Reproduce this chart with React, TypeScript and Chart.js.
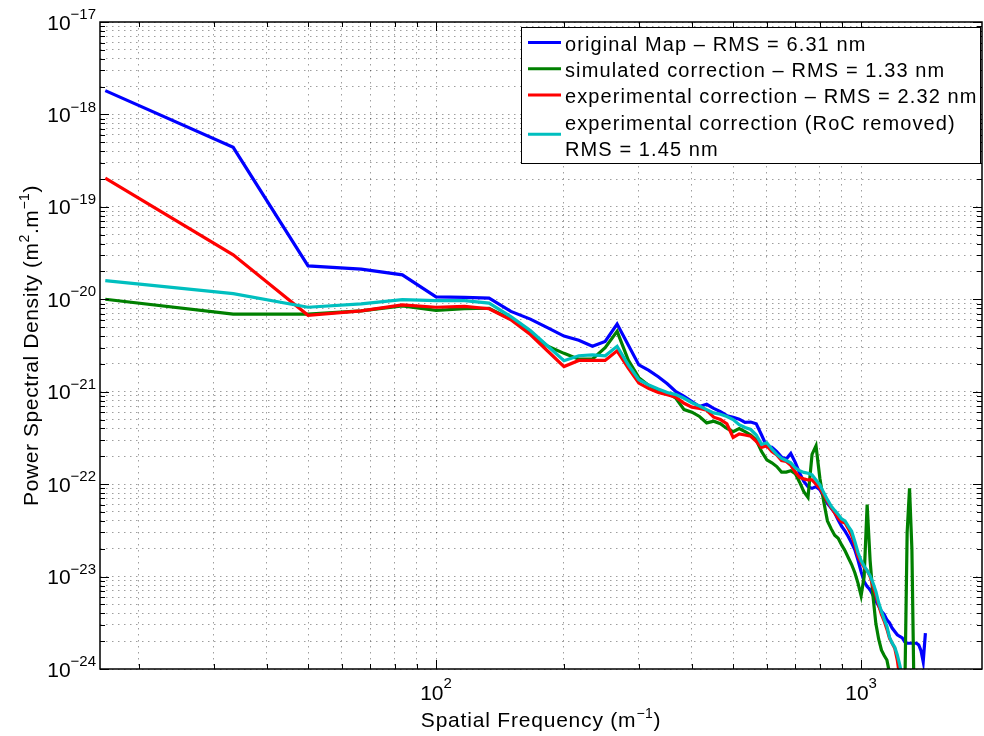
import React, { useEffect, useRef } from 'react';
import { Chart, registerables } from 'chart.js';

Chart.register(...registerables);

const FONT = '"Liberation Sans", Arial, Helvetica, sans-serif';

// Spatial frequency bins (m^-1)
const frequency = [
  16.67, 33.33, 50, 66.67, 83.33, 100, 116.7, 133.3, 150, 166.7,
  183.3, 200, 216.7, 233.3, 250, 266.7, 283.3, 300, 316.7, 333.3,
  350, 366.7, 383.3, 400, 416.7, 433.3, 450, 466.7, 483.3, 500,
  516.7, 533.3, 550, 566.7, 583.3, 600, 616.7, 633.3, 650, 666.7,
  683.3, 700, 716.7, 733.3, 750, 766.7, 783.3, 800, 816.7, 833.3,
  850, 866.7, 883.3, 900, 916.7, 933.3, 950, 966.7, 983.3, 1000,
  1016.7, 1033.3, 1050, 1066.7, 1083.3, 1100, 1116.7, 1133.3, 1150, 1166.7,
  1183.3, 1200, 1216.7, 1233.3, 1250, 1266.7, 1283.3, 1300, 1316.7, 1333.3,
  1350, 1366.7, 1383.3, 1400, 1416.7,
];

// PSD values (m^2.m^-1)
const psdOriginal = [
  1.81e-18, 4.4e-19, 2.3e-20, 2.12e-20, 1.84e-20, 1.06e-20, 1.05e-20, 1.03e-20, 7.4e-21, 6.1e-21,
  4.9e-21, 4.0e-21, 3.6e-21, 3.1e-21, 3.5e-21, 5.4e-21, 3.2e-21, 1.95e-21, 1.7e-21, 1.45e-21,
  1.22e-21, 1.0e-21, 8.9e-22, 7.8e-22, 6.9e-22, 7.3e-22, 6.6e-22, 6.1e-22, 5.5e-22, 5.3e-22,
  5.05e-22, 4.65e-22, 4.7e-22, 4.5e-22, 3.4e-22, 2.55e-22, 2.5e-22, 2.25e-22, 1.96e-22, 1.87e-22,
  2.15e-22, 1.72e-22, 1.32e-22, 1.07e-22, 9.4e-23, 9.0e-23, 9.4e-23, 8.7e-23, 7.3e-23, 6.2e-23,
  5.5e-23, 4.9e-23, 4.1e-23, 3.5e-23, 3.1e-23, 2.7e-23, 2.3e-23, 1.95e-23, 1.51e-23, 1.13e-23,
  8.8e-24, 7.8e-24, 7.2e-24, 6.3e-24, 5.4e-24, 4.8e-24, 4.2e-24, 3.9e-24, 3.4e-24, 3.15e-24,
  2.77e-24, 2.55e-24, 2.35e-24, 2.25e-24, 2.17e-24, 1.97e-24, 1.9e-24, 1.9e-24, 1.9e-24, 1.9e-24,
  1.9e-24, 1.82e-24, 1.58e-24, 1.2e-24, 2.45e-24,
];

const psdSimulated = [
  1.0e-20, 6.9e-21, 6.9e-21, 7.5e-21, 8.5e-21, 7.6e-21, 7.9e-21, 8.0e-21, 6.1e-21, 4.3e-21,
  3.1e-21, 2.6e-21, 2.25e-21, 2.25e-21, 3.0e-21, 4.5e-21, 2.2e-21, 1.42e-21, 1.17e-21, 1.02e-21,
  9.7e-22, 8.5e-22, 6.4e-22, 6.0e-22, 5.4e-22, 4.6e-22, 4.8e-22, 4.5e-22, 4.0e-22, 3.7e-22,
  4.0e-22, 3.7e-22, 3.4e-22, 3.0e-22, 2.25e-22, 1.83e-22, 1.7e-22, 1.55e-22, 1.35e-22, 1.35e-22,
  1.4e-22, 1.3e-22, 1.05e-22, 8.3e-23, 7.2e-23, 2.1e-22, 2.6e-22, 1.15e-22, 6.5e-23, 4.0e-23,
  3.3e-23, 2.8e-23, 2.6e-23, 2.2e-23, 1.9e-23, 1.6e-23, 1.35e-23, 1.1e-23, 8.5e-24, 6.2e-24,
  1.0e-23, 6.0e-23, 1.5e-23, 6.1e-24, 3.1e-24, 2.1e-24, 1.6e-24, 1.4e-24, 1.25e-24, 9e-25,
  5e-25, 4e-25, 4e-25, 4e-25, 4e-25, 5e-25, 3e-23, 9e-23, 2e-23, 4e-25,
];

const psdExperimental = [
  2.05e-19, 3.03e-20, 6.7e-21, 7.5e-21, 8.7e-21, 8.2e-21, 8.4e-21, 7.9e-21, 6.0e-21, 4.15e-21,
  2.74e-21, 1.87e-21, 2.18e-21, 2.18e-21, 2.18e-21, 2.77e-21, 1.8e-21, 1.24e-21, 1.08e-21, 9.8e-22,
  9.3e-22, 8.7e-22, 7.5e-22, 6.8e-22, 6.6e-22, 6.3e-22, 5.3e-22, 5.0e-22, 4.5e-22, 3.2e-22,
  3.5e-22, 3.4e-22, 3.3e-22, 2.9e-22, 2.5e-22, 2.6e-22, 2.25e-22, 2.07e-22, 1.8e-22, 1.76e-22,
  1.6e-22, 1.35e-22, 1.18e-22, 1.14e-22, 1.11e-22, 1.11e-22, 1.0e-22, 9.0e-23, 7.7e-23, 6.5e-23,
  5.6e-23, 4.9e-23, 4.3e-23, 3.9e-23, 3.8e-23, 3.3e-23, 2.8e-23, 2.2e-23, 1.65e-23, 1.43e-23,
  1.26e-23, 1.16e-23, 1.0e-23, 7.8e-24, 6.3e-24, 4.9e-24, 3.9e-24, 3.3e-24, 2.7e-24, 2.15e-24,
  1.9e-24, 1.68e-24, 1.25e-24, 8e-25, 6e-25,
];

const psdRocRemoved = [
  1.59e-20, 1.15e-20, 8.2e-21, 8.9e-21, 9.9e-21, 9.65e-21, 9.65e-21, 9.1e-21, 6.5e-21, 4.6e-21,
  3.1e-21, 2.16e-21, 2.45e-21, 2.5e-21, 2.45e-21, 3.1e-21, 1.95e-21, 1.35e-21, 1.18e-21, 1.07e-21,
  9.8e-22, 9.3e-22, 8.5e-22, 7.6e-22, 7.0e-22, 6.4e-22, 5.9e-22, 5.7e-22, 5.4e-22, 5.0e-22,
  4.4e-22, 4.1e-22, 3.9e-22, 3.4e-22, 2.7e-22, 2.8e-22, 2.4e-22, 2.1e-22, 1.9e-22, 1.8e-22,
  1.7e-22, 1.5e-22, 1.4e-22, 1.34e-22, 1.31e-22, 1.26e-22, 1.11e-22, 9.8e-23, 8.1e-23, 6.8e-23,
  5.8e-23, 5.2e-23, 4.7e-23, 4.2e-23, 4.0e-23, 3.5e-23, 3.1e-23, 2.4e-23, 1.82e-23, 1.49e-23,
  1.3e-23, 1.16e-23, 1.02e-23, 8.5e-24, 6.9e-24, 5.2e-24, 4.2e-24, 3.45e-24, 2.9e-24, 2.2e-24,
  1.9e-24, 1.72e-24, 1.42e-24, 1.1e-24, 8e-25,
];

const seriesValues = [psdOriginal, psdSimulated, psdExperimental, psdRocRemoved];
const seriesLabels = [
  ['original Map \u2013 RMS = 6.31 nm'],
  ['simulated correction \u2013 RMS = 1.33 nm'],
  ['experimental correction \u2013 RMS = 2.32 nm'],
  ['experimental correction (RoC removed)', 'RMS = 1.45 nm'],
];
const seriesColors = ['#0000ff', '#008000', '#ff0000', '#00bfbf'];

const xMajorTicks = [100, 1000];
const yMajorTicks = [1e-24, 1e-23, 1e-22, 1e-21, 1e-20, 1e-19, 1e-18, 1e-17];
const minorMultipliers = [1, 2, 3, 4, 5, 6, 7, 8, 9];
const xMin = 16.2;
const xMax = 1925;
const yMin = 1e-24;
const yMax = 1e-17;

function logGrid(lo: number, hi: number): number[] {
  const out: number[] = [];
  const e0 = Math.floor(Math.log10(lo));
  const e1 = Math.floor(Math.log10(hi));
  for (let e = e0; e <= e1; e++) {
    for (const m of minorMultipliers) {
      const v = Number((m * Math.pow(10, e)).toPrecision(6));
      if (v >= lo * 0.9999 && v <= hi * 1.0001) out.push(v);
    }
  }
  return out;
}

const xGrid = logGrid(xMin, xMax);
const yGrid = logGrid(yMin, yMax);

type Part = { text: string; size: number; rise: number; spacing?: number };

function setFont(ctx: CanvasRenderingContext2D, p: Part) {
  ctx.font = `${p.size}px ${FONT}`;
  (ctx as any).letterSpacing = `${p.spacing || 0}px`;
}

function richWidth(ctx: CanvasRenderingContext2D, parts: Part[]) {
  let w = 0;
  for (const p of parts) {
    setFont(ctx, p);
    w += ctx.measureText(p.text).width;
  }
  return w;
}

function drawRich(
  ctx: CanvasRenderingContext2D,
  parts: Part[],
  x: number,
  baseline: number,
  align: 'left' | 'center' | 'right'
) {
  const w = richWidth(ctx, parts);
  let cx = align === 'left' ? x : align === 'center' ? x - w / 2 : x - w;
  ctx.textAlign = 'left';
  ctx.textBaseline = 'alphabetic';
  for (const p of parts) {
    setFont(ctx, p);
    ctx.fillText(p.text, cx, baseline - p.rise);
    cx += ctx.measureText(p.text).width;
  }
}

const matlabAxes = {
  id: 'matlabAxes',
  afterDatasetsDraw(chart: any) {
    const ctx: CanvasRenderingContext2D = chart.ctx;
    const { left, right, top, bottom } = chart.chartArea;
    const xs = chart.scales.x;
    const ys = chart.scales.y;
    ctx.save();
    ctx.strokeStyle = '#000';
    ctx.lineWidth = 1;
    ctx.beginPath();
    for (const v of xGrid) {
      const px = Math.round(xs.getPixelForValue(v)) + 0.5;
      const len = xMajorTicks.includes(v) ? 9 : 5;
      ctx.moveTo(px, bottom);
      ctx.lineTo(px, bottom - len);
      ctx.moveTo(px, top);
      ctx.lineTo(px, top + len);
    }
    for (const v of yGrid) {
      const py = Math.round(ys.getPixelForValue(v)) + 0.5;
      const len = yMajorTicks.includes(v) ? 9 : 5;
      ctx.moveTo(left, py);
      ctx.lineTo(left + len, py);
      ctx.moveTo(right, py);
      ctx.lineTo(right - len, py);
    }
    ctx.stroke();
    ctx.lineWidth = 1.5;
    ctx.strokeRect(left, top, right - left, bottom - top);
    ctx.restore();
  },
  afterDraw(chart: any) {
    const ctx: CanvasRenderingContext2D = chart.ctx;
    const { left, right, top, bottom } = chart.chartArea;
    const xs = chart.scales.x;
    const ys = chart.scales.y;
    ctx.save();
    ctx.fillStyle = '#000';

    // y tick labels
    for (const v of yMajorTicks) {
      const py = ys.getPixelForValue(v);
      const exp = Math.round(Math.log10(v));
      const expText = exp < 0 ? '\u2212' + Math.abs(exp) : String(exp);
      drawRich(
        ctx,
        [
          { text: '10', size: 21, rise: 0 },
          { text: expText, size: 15, rise: 10.5 },
        ],
        left - 4,
        py + 7.6,
        'right'
      );
    }
    // x tick labels
    for (const v of xMajorTicks) {
      const px = xs.getPixelForValue(v);
      const exp = Math.round(Math.log10(v));
      drawRich(
        ctx,
        [
          { text: '10', size: 21, rise: 0 },
          { text: String(exp), size: 15, rise: 12 },
        ],
        px,
        bottom + 31,
        'center'
      );
    }
    // x title
    drawRich(
      ctx,
      [
        { text: 'Spatial Frequency (m', size: 21, rise: 0, spacing: 0.8 },
        { text: '\u22121', size: 14, rise: 9, spacing: 0.5 },
        { text: ')', size: 21, rise: 0, spacing: 0.8 },
      ],
      (left + right) / 2,
      bottom + 58,
      'center'
    );
    // y title
    ctx.save();
    ctx.translate(38, (top + bottom) / 2);
    ctx.rotate(-Math.PI / 2);
    drawRich(
      ctx,
      [
        { text: 'Power Spectral Density (m', size: 21, rise: 0, spacing: 0.6 },
        { text: '2', size: 14, rise: 9, spacing: 0.5 },
        { text: '.m', size: 21, rise: 0, spacing: 0.6 },
        { text: '\u22121', size: 14, rise: 9, spacing: 0.5 },
        { text: ')', size: 21, rise: 0, spacing: 0.6 },
      ],
      0,
      0,
      'center'
    );
    ctx.restore();

    // legend
    const bx = 521;
    const by = 27;
    const bw = 459;
    const bh = 136;
    ctx.fillStyle = '#fff';
    ctx.fillRect(bx, by, bw, bh);
    ctx.strokeStyle = '#000';
    ctx.lineWidth = 1;
    ctx.strokeRect(bx + 0.5, by + 0.5, bw, bh);
    let line = 0;
    const firstBaseline = 51;
    const pitch = 26.2;
    seriesLabels.forEach((lines, i) => {
      const baselines = lines.map((_, j) => firstBaseline + (line + j) * pitch);
      const avg = baselines.reduce((a, b) => a + b, 0) / baselines.length;
      ctx.strokeStyle = seriesColors[i];
      ctx.lineWidth = 3;
      ctx.beginPath();
      ctx.moveTo(528, avg - 8.5);
      ctx.lineTo(561, avg - 8.5);
      ctx.stroke();
      ctx.fillStyle = '#000';
      lines.forEach((t, j) => {
        drawRich(ctx, [{ text: t, size: 20, rise: 0, spacing: 1.1 }], 565, baselines[j], 'left');
      });
      line += lines.length;
    });
    ctx.restore();
  },
};

const GRID_COLOR = 'rgba(0,0,0,0.38)';

export default function App() {
  const canvasRef = useRef<HTMLCanvasElement | null>(null);

  useEffect(() => {
    if (!canvasRef.current) return;
    const datasets = seriesValues.map((vals, i) => ({
      label: seriesLabels[i].join(' '),
      data: vals.map((v, k) => ({ x: frequency[k], y: v })),
      borderColor: seriesColors[i],
      backgroundColor: seriesColors[i],
      borderWidth: 3.2,
      pointRadius: 0,
      tension: 0,
      fill: false,
      order: 4 - i,
    }));
    const chart = new Chart(canvasRef.current, {
      type: 'line',
      data: { datasets },
      options: {
        responsive: false,
        animation: false,
        devicePixelRatio: 1,
        layout: { padding: { top: 22, right: 2, left: 0, bottom: 0 } },
        plugins: {
          legend: { display: false },
          tooltip: { enabled: false },
          title: { display: false },
        },
        scales: {
          x: {
            type: 'logarithmic',
            min: xMin,
            max: xMax,
            afterBuildTicks: (s: any) => {
              s.ticks = xGrid.map((v) => ({ value: v }));
            },
            afterFit: (s: any) => {
              s.height = 67;
            },
            ticks: { display: false },
            grid: { color: GRID_COLOR, lineWidth: 1, drawTicks: false },
            border: { display: false, dash: [1.5, 4.5] },
          },
          y: {
            type: 'logarithmic',
            min: yMin,
            max: yMax,
            afterBuildTicks: (s: any) => {
              s.ticks = yGrid.map((v) => ({ value: v }));
            },
            afterFit: (s: any) => {
              s.width = 100;
            },
            ticks: { display: false },
            grid: { color: GRID_COLOR, lineWidth: 1, drawTicks: false },
            border: { display: false, dash: [1.5, 4.5] },
          },
        },
      } as any,
      plugins: [matlabAxes],
    });
    return () => chart.destroy();
  }, []);

  return (
    <div style={{ position: 'absolute', left: 0, top: 0, width: 984, height: 736, background: '#fff' }}>
      <canvas ref={canvasRef} width={984} height={736} style={{ display: 'block' }} />
    </div>
  );
}
